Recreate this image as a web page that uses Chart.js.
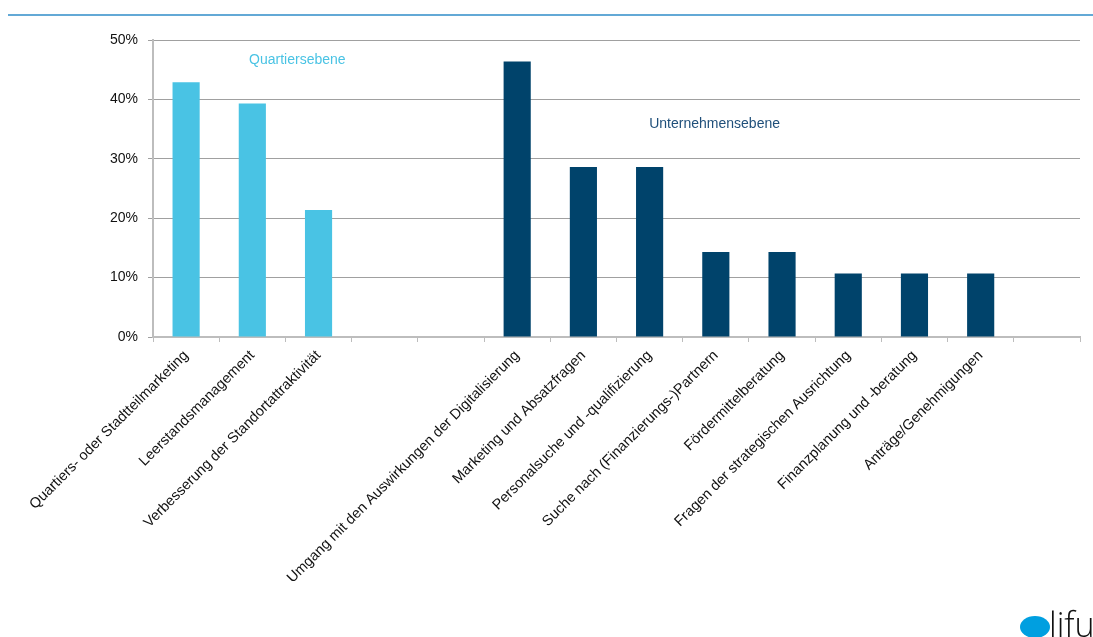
<!DOCTYPE html>
<html lang="de">
<head>
<meta charset="utf-8">
<script src="https://cdn.jsdelivr.net/npm/chart.js@4.4.1/dist/chart.umd.min.js"></script>
<style>
    html, body { margin: 0; padding: 0; background: #fff; }
    #wrap { position: relative; width: 1093px; height: 637px; }
</style>
</head>
<body>
<div id="wrap"><canvas id="beratungChart"></canvas></div>
<script>
// Themen des Beratungsbedarfs (Anteil der Nennungen)
const categories = [
    'Quartiers- oder Stadtteilmarketing',
    'Leerstandsmanagement',
    'Verbesserung der Standortattraktivität',
    '',
    '',
    'Umgang mit den Auswirkungen der Digitalisierung',
    'Marketing und Absatzfragen',
    'Personalsuche und -qualifizierung',
    'Suche nach (Finanzierungs-)Partnern',
    'Fördermittelberatung',
    'Fragen der strategischen Ausrichtung',
    'Finanzplanung und -beratung',
    'Anträge/Genehmigungen',
    ''
];
const quartierValues = [42.9, 39.3, 21.4, null, null, null, null, null, null, null, null, null, null, null];
const unternehmenValues = [null, null, null, null, null, 46.4, 28.6, 28.6, 14.3, 14.3, 10.7, 10.7, 10.7, null];
const yTicks = [0, 10, 20, 30, 40, 50];

const LIGHT_BLUE = '#49c3e4';
const DARK_BLUE = '#00436b';
const FONT = '"Liberation Sans", Arial, sans-serif';

// Group labels, header rule and logo
const decorPlugin = {
    id: 'decor',
    afterDraw(chart) {
        const { ctx } = chart;
        const x = chart.scales.x;
        const y = chart.scales.y;
        ctx.save();

        // header rule
        ctx.strokeStyle = '#2f8cc8';
        ctx.lineWidth = 1.5;
        ctx.beginPath();
        ctx.moveTo(8, 15);
        ctx.lineTo(1093, 15);
        ctx.stroke();

        // group labels
        ctx.font = '14px ' + FONT;
        ctx.textAlign = 'center';
        ctx.textBaseline = 'middle';
        ctx.fillStyle = LIGHT_BLUE;
        ctx.fillText('Quartiersebene', x.getPixelForValue(1) + 45, y.getPixelForValue(46.6));
        ctx.fillStyle = '#1f4f7a';
        ctx.fillText('Unternehmensebene', x.getPixelForValue(7) + 65, y.getPixelForValue(35.9));

        // logo
        ctx.fillStyle = '#009fe0';
        ctx.beginPath();
        ctx.ellipse(1035, 627, 15, 11, 0, 0, Math.PI * 2);
        ctx.fill();
        ctx.fillStyle = '#111';
        ctx.font = '300 34px "Open Sans", sans-serif';
        ctx.textAlign = 'left';
        ctx.textBaseline = 'alphabetic';
        ctx.fillText('lifu', 1049, 637);
        ctx.restore();
    }
};

new Chart(document.getElementById('beratungChart'), {
    type: 'bar',
    data: {
        labels: categories,
        datasets: [
            {
                label: 'Quartiersebene',
                data: quartierValues,
                backgroundColor: LIGHT_BLUE,
                grouped: false,
                barPercentage: 0.41,
                categoryPercentage: 1
            },
            {
                label: 'Unternehmensebene',
                data: unternehmenValues,
                backgroundColor: DARK_BLUE,
                grouped: false,
                barPercentage: 0.41,
                categoryPercentage: 1
            }
        ]
    },
    options: {
        responsive: true,
        maintainAspectRatio: false,
        animation: false,
        devicePixelRatio: 1,
        layout: {
            padding: { top: 40, right: 13, left: 0, bottom: 0 }
        },
        plugins: {
            legend: { display: false },
            tooltip: { enabled: false }
        },
        scales: {
            x: {
                offset: true,
                grid: {
                    offset: true,
                    drawOnChartArea: false,
                    drawTicks: true,
                    tickLength: 5,
                    color: '#bdbdbd'
                },
                border: { color: '#bdbdbd', width: 2 },
                ticks: {
                    autoSkip: false,
                    maxRotation: 45,
                    minRotation: 45,
                    padding: 5,
                    color: '#111',
                    font: { family: FONT, size: 14.5 }
                },
                afterFit(scale) {
                    scale.height = 300;
                }
            },
            y: {
                min: 0,
                max: 50,
                afterBuildTicks(scale) {
                    scale.ticks = yTicks.map(v => ({ value: v }));
                },
                grid: {
                    color: '#a0a0a0',
                    tickLength: 5,
                    lineWidth: 1
                },
                border: { color: '#bdbdbd', width: 2 },
                ticks: {
                    padding: 10,
                    color: '#111',
                    font: { family: FONT, size: 14 },
                    callback: v => v + '%'
                },
                afterFit(scale) {
                    scale.width = 153;
                }
            }
        }
    },
    plugins: [decorPlugin]
});
</script>
</body>
</html>
